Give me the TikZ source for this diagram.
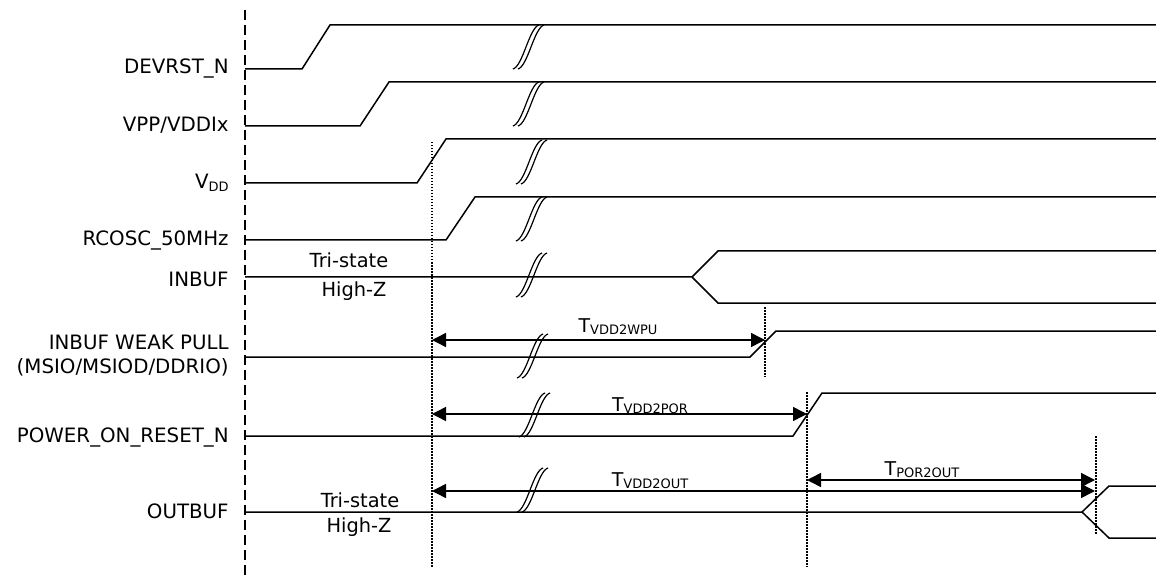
\documentclass[tikz,border=0pt]{standalone}
\usepackage{fontspec}
\setmainfont{DejaVu Sans}
\usetikzlibrary{arrows.meta}
\newcommand{\tsub}[2]{#1\raisebox{-1.3pt}{\fontsize{6.5}{7}\selectfont #2}}
\begin{document}
\begin{tikzpicture}[x=0.5pt,y=-0.5pt,
  sig/.style={line width=0.75pt, line join=miter},
  guide/.style={line width=0.6pt, dash pattern=on 0.75pt off 0.75pt},
  axisline/.style={line width=0.65pt, dash pattern=on 5pt off 2.5pt},
  dim/.style={line width=0.75pt, {Triangle[length=7pt,width=7pt]}-{Triangle[length=7pt,width=7pt]}},
  lbl/.style={anchor=base east, inner sep=0pt, font=\fontsize{9.9}{11}\selectfont},
  ttl/.style={anchor=base, inner sep=0pt, font=\fontsize{9.7}{11}\selectfont},
  tlab/.style={anchor=base, inner sep=0pt, font=\fontsize{9.5}{11}\selectfont},
  brk/.pic={
    \draw[line width=0.6pt] (0,0) .. controls (10,-3) and (16,-41) .. (26,-44);
    \draw[line width=0.6pt] (5,0) .. controls (15,-3) and (21,-41) .. (31,-44);
  }
]
\useasboundingbox (0,0) rectangle (1156,577);

% time axis
\coordinate (axtop) at (245,10);
\coordinate (axbot) at (245,577);
\draw[axisline] (axtop) -- (axbot);

% signal labels
\node[lbl] (lDEV) at (229,74) {DEVRST\_N};
\node[lbl] (lVPP) at (229,132) {VPP/VDDIx};
\node[lbl] (lVDD) at (229,189) {V\raisebox{-1.3pt}{\fontsize{6.5}{7}\selectfont DD}};
\node[lbl] (lRC) at (229,246) {RCOSC\_50MHz};
\node[lbl] (lIN) at (229,286) {INBUF};
\node[lbl] (lWP1) at (229,350) {INBUF WEAK PULL};
\node[lbl] (lWP2) at (229,373) {(MSIO/MSIOD/DDRIO)};
\node[lbl] (lPOR) at (229,442) {POWER\_ON\_RESET\_N};
\node[lbl] (lOUT) at (229,518) {OUTBUF};

% waveforms
\draw[sig] (245,69) -- (302,69) -- (330,25) -- (1156,25);
\draw[sig] (245,126) -- (360,126) -- (389,82) -- (1156,82);
\draw[sig] (245,183) -- (417,183) -- (446,139) -- (1156,139);
\draw[sig] (245,240) -- (446,240) -- (475,197) -- (1156,197);
\draw[sig] (245,277) -- (692,277) -- (718,251) -- (1156,251);
\draw[sig] (692,277) -- (718,303) -- (1156,303);
\draw[sig] (245,357) -- (750,357) -- (776,331) -- (1156,331);
\draw[sig] (245,436) -- (793,436) -- (822,393) -- (1156,393);
\draw[sig] (245,512) -- (1082,512) -- (1109,486) -- (1156,486);
\draw[sig] (1082,512) -- (1109,538) -- (1156,538);

% tri-state labels
\node[ttl] (ts1) at (349,268) {Tri-state};
\node[ttl] (hz1) at (354,297) {High-Z};
\node[ttl] (ts2) at (360,507) {Tri-state};
\node[ttl] (hz2) at (359,532) {High-Z};

% break marks
\pic at (513,69) {brk};
\pic at (513,126) {brk};
\pic at (516,184) {brk};
\pic at (516,241) {brk};
\pic at (516,297) {brk};
\pic at (517,378) {brk};
\pic at (519,437) {brk};
\pic at (517,512) {brk};

% guide lines
\coordinate (g1t) at (432,142);
\coordinate (g1b) at (432,567);
\coordinate (g2t) at (765,307);
\coordinate (g2b) at (765,377);
\coordinate (g3t) at (807,392);
\coordinate (g3b) at (807,567);
\coordinate (g4t) at (1096,436);
\coordinate (g4b) at (1096,535);
\draw[guide] (g1t) -- (g1b);
\draw[guide] (g2t) -- (g2b);
\draw[guide] (g3t) -- (g3b);
\draw[guide] (g4t) -- (g4b);

% dimension arrows
\coordinate (aW1) at (432,340);
\coordinate (aW2) at (765,340);
\coordinate (aP1) at (432,414);
\coordinate (aP2) at (807,414);
\coordinate (aO1) at (432,491);
\coordinate (aO2) at (1095,491);
\coordinate (aR1) at (807,480);
\coordinate (aR2) at (1095,480);
\draw[dim] (aW1) -- (aW2);
\draw[dim] (aP1) -- (aP2);
\draw[dim] (aO1) -- (aO2);
\draw[dim] (aR1) -- (aR2);

\node[tlab] (tW) at (618,332) {\tsub{T}{VDD2WPU}};
\node[tlab] (tP) at (650,411) {\tsub{T}{VDD2POR}};
\node[tlab] (tO) at (650,486) {\tsub{T}{VDD2OUT}};
\node[tlab] (tR) at (922,475) {\tsub{T}{POR2OUT}};
\end{tikzpicture}
\end{document}
